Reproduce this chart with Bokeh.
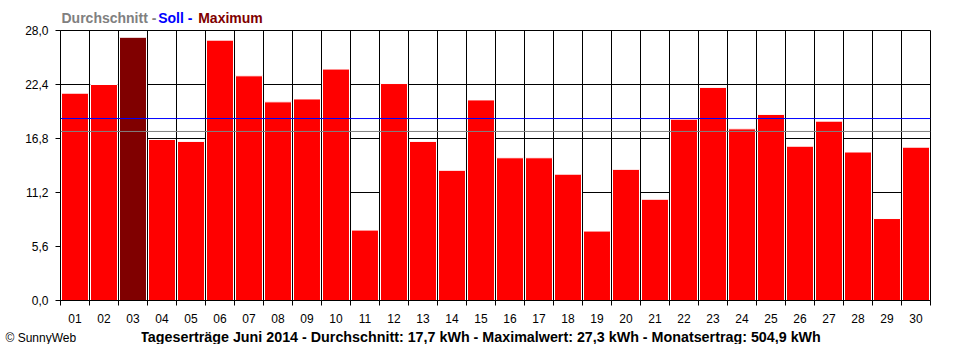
from bokeh.plotting import figure
from bokeh.layouts import column, row
from bokeh.models import FixedTicker, Span, Label, ColumnDataSource, Range1d
from bokeh.embed import file_html
from bokeh.resources import INLINE

# ---- data ----
days = ["%02d" % d for d in range(1, 31)]
values = [21.5, 22.4, 27.3, 16.7, 16.5, 27.0, 23.3, 20.6, 20.9, 24.0,
          7.3, 22.5, 16.5, 13.5, 20.8, 14.8, 14.8, 13.1, 7.2, 13.6,
          10.5, 18.8, 22.1, 17.8, 19.3, 16.0, 18.6, 15.4, 8.5, 15.9]
soll = 18.87
durchschnitt = 17.53
y_ticks = [0.0, 5.6, 11.2, 16.8, 22.4, 28.0]
y_tick_labels = ["0,0", "5,6", "11,2", "16,8", "22,4", "28,0"]
legend_parts = ["Durchschnitt - ", "Soll - ", "Maximum"]
legend_colors = ["#808080", "#0000FF", "#800000"]
bottom_title = ("Tageserträge Juni 2014 - Durchschnitt: 17,7 kWh - "
                "Maximalwert: 27,3 kWh - Monatsertrag: 504,9 kWh")
credit = "© SunnyWeb"
bar_color = "#FF0000"
max_color = "#800000"

# ---- layout ----
W = 944
TOP_H, MAIN_H, BOT_H = 24, 304, 16
BL, BR, BT, BB = 60, 14, 6, 28
CREDIT_W = 141
YMAX = 28.0
NDAYS = len(days)
FONT = "Liberation Sans"

xs = list(range(1, NDAYS + 1))
colors = [max_color if v == max(values) else bar_color for v in values]
src = ColumnDataSource(dict(x=xs, top=values, color=colors))
boundaries = [i + 0.5 for i in range(0, NDAYS + 1)]


def text_strip(x0, x1, h):
    f = figure(width=x1 - x0, height=h, x_range=Range1d(x0, x1), y_range=Range1d(h, 0),
               x_axis_type=None, y_axis_type=None, output_backend="svg",
               toolbar_location=None, min_border=0)
    f.min_border_left = f.min_border_right = 0
    f.min_border_top = f.min_border_bottom = 0
    f.outline_line_color = None
    f.background_fill_color = "white"
    f.border_fill_color = "white"
    f.xgrid.visible = False
    f.ygrid.visible = False
    return f


# top strip: coloured legend text
top = text_strip(0, W, TOP_H)
legend_x = [61, 157.7, 197.7]
for t, c, lx in zip(legend_parts, legend_colors, legend_x):
    top.add_layout(Label(x=lx, y=17, text=t, text_color=c,
                         text_font=FONT, text_font_style="bold",
                         text_font_size="14px", text_align="left",
                         text_baseline="middle"))

# main chart
p = figure(width=W, height=MAIN_H, x_range=(0.5, NDAYS + 0.5), y_range=(0, YMAX),
           output_backend="svg", toolbar_location=None,
           min_border_left=BL, min_border_right=BR,
           min_border_top=BT, min_border_bottom=BB)
p.background_fill_color = "white"
p.border_fill_color = "white"
p.outline_line_color = "black"
p.outline_line_width = 1
p.outline_line_alpha = 1.0

p.vbar(x="x", top="top", width=0.93, fill_color="color",
       line_color="white", line_width=1, source=src)

p.xgrid.ticker = FixedTicker(ticks=boundaries)
p.ygrid.ticker = FixedTicker(ticks=y_ticks)
for g in (p.xgrid, p.ygrid):
    g.grid_line_color = "black"
    g.grid_line_alpha = 1.0
    g.grid_line_width = 1

xa = p.xaxis[0]
xa.ticker = FixedTicker(ticks=xs, minor_ticks=boundaries)
xa.major_label_overrides = {x: d for x, d in zip(xs, days)}
xa.major_tick_out = 0
xa.major_tick_in = 0
xa.minor_tick_out = 5
xa.minor_tick_in = 0
xa.minor_tick_line_color = "black"
xa.major_label_standoff = 8

ya = p.yaxis[0]
ya.ticker = FixedTicker(ticks=y_ticks)
ya.major_label_overrides = {t: l for t, l in zip(y_ticks, y_tick_labels)}
ya.major_tick_out = 5
ya.major_tick_in = 0
ya.minor_tick_out = 0
ya.minor_tick_in = 0
ya.major_label_standoff = 7

for a in (xa, ya):
    a.axis_line_color = "black"
    a.major_tick_line_color = "black"
    a.major_label_text_font = FONT
    a.major_label_text_font_size = "12px"
    a.major_label_text_color = "black"

p.add_layout(Span(location=soll, dimension="width", line_color="#0000FF", line_width=1))
p.add_layout(Span(location=durchschnitt, dimension="width", line_color="#808080", line_width=1))

# bottom strips: credit and summary title
cred = text_strip(0, CREDIT_W, BOT_H)
cred.add_layout(Label(x=5, y=9, text=credit, text_color="black",
                      text_font=FONT, text_font_size="12px",
                      text_align="left", text_baseline="middle"))
bot = text_strip(CREDIT_W, W, BOT_H)
bot.add_layout(Label(x=480, y=8, text=bottom_title, text_color="black",
                     text_font=FONT, text_font_style="bold",
                     text_font_size="14.3px", text_align="center",
                     text_baseline="middle"))

layout = column(row(top, spacing=0), p, row(cred, bot, spacing=0), spacing=0)
open("out.html", "w").write(file_html(layout, INLINE))
